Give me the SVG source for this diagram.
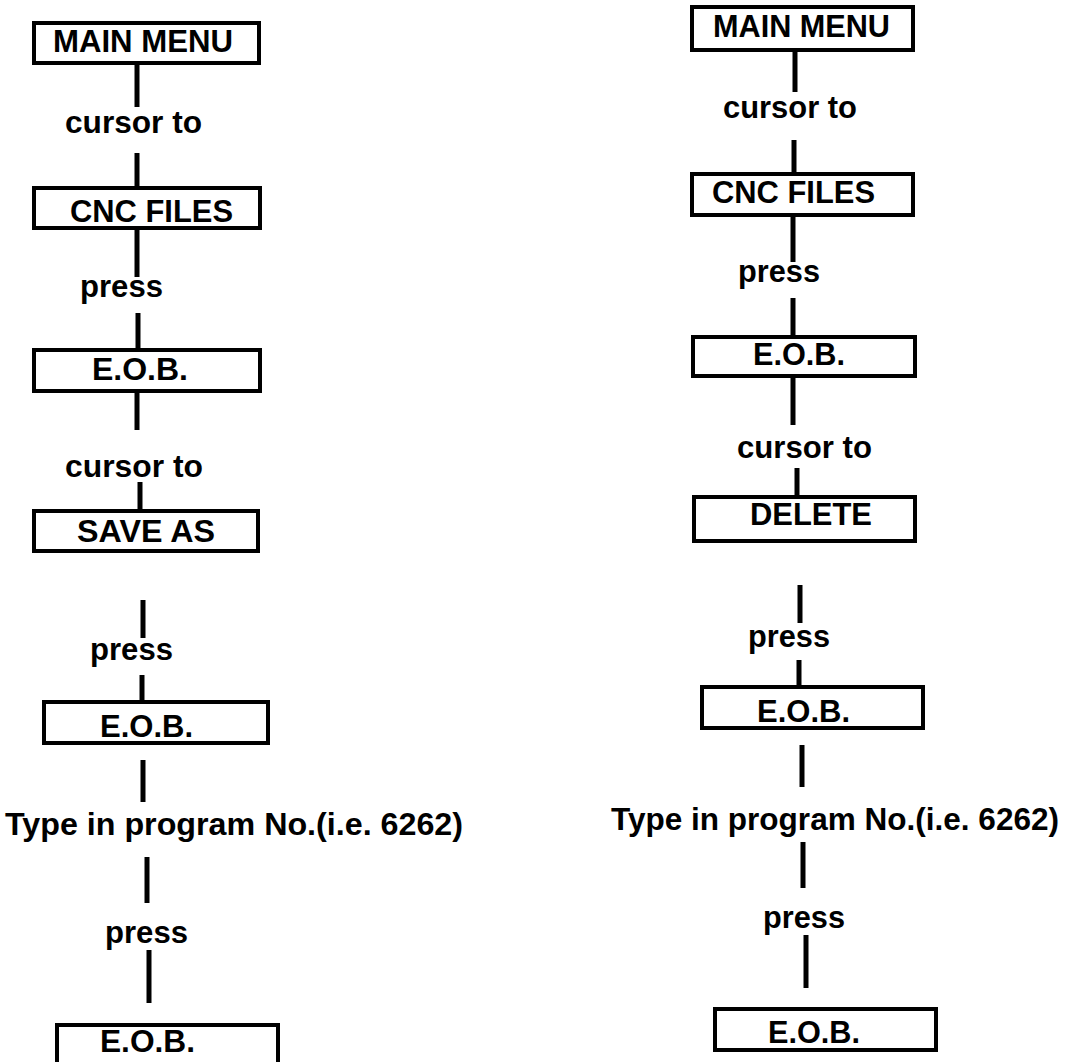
<svg xmlns="http://www.w3.org/2000/svg" width="1070" height="1062" viewBox="0 0 1070 1062">
<style>
.box{fill:#fff;stroke:#000;stroke-width:4}
.bt{font-family:"Liberation Sans",Arial,sans-serif;font-weight:bold;font-size:31px;fill:#000}
.lb{font-family:"Liberation Sans",Arial,sans-serif;font-weight:bold;font-size:32px;fill:#000}
.lt{font-family:"Liberation Sans",Arial,sans-serif;font-weight:bold;font-size:32px;fill:#000}
.ln{stroke:#000;stroke-width:5;fill:none}
</style>
<rect width="1070" height="1062" fill="#fff"/>
<g id="connectors">
<line class="ln" x1="137" y1="65" x2="137" y2="107"/>
<line class="ln" x1="137" y1="153" x2="137" y2="186"/>
<line class="ln" x1="137" y1="230" x2="137" y2="277"/>
<line class="ln" x1="138" y1="313" x2="138" y2="348"/>
<line class="ln" x1="137" y1="393" x2="137" y2="430"/>
<line class="ln" x1="140" y1="482" x2="140" y2="510"/>
<line class="ln" x1="143" y1="600" x2="143" y2="638"/>
<line class="ln" x1="142" y1="675" x2="142" y2="700"/>
<line class="ln" x1="143" y1="760" x2="143" y2="802"/>
<line class="ln" x1="147" y1="857" x2="147" y2="903"/>
<line class="ln" x1="149" y1="950" x2="149" y2="1003"/>
<line class="ln" x1="795" y1="52" x2="795" y2="92"/>
<line class="ln" x1="794" y1="140" x2="794" y2="172"/>
<line class="ln" x1="793" y1="217" x2="793" y2="262"/>
<line class="ln" x1="793" y1="298" x2="793" y2="335"/>
<line class="ln" x1="793" y1="378" x2="793" y2="425"/>
<line class="ln" x1="797" y1="468" x2="797" y2="495"/>
<line class="ln" x1="800" y1="585" x2="800" y2="623"/>
<line class="ln" x1="799" y1="660" x2="799" y2="685"/>
<line class="ln" x1="802" y1="745" x2="802" y2="787"/>
<line class="ln" x1="803" y1="842" x2="803" y2="888"/>
<line class="ln" x1="806" y1="935" x2="806" y2="988"/>
</g>
<g id="labels">
<text class="lb" x="65" y="133" textLength="137" lengthAdjust="spacingAndGlyphs">cursor to</text>
<text class="lb" x="80" y="297" textLength="83" lengthAdjust="spacingAndGlyphs">press</text>
<text class="lb" x="65" y="477" textLength="138" lengthAdjust="spacingAndGlyphs">cursor to</text>
<text class="lb" x="90" y="660" textLength="83" lengthAdjust="spacingAndGlyphs">press</text>
<text class="lt" x="5" y="835" textLength="458" lengthAdjust="spacingAndGlyphs">Type in program No.(i.e. 6262)</text>
<text class="lb" x="105" y="943" textLength="83" lengthAdjust="spacingAndGlyphs">press</text>
<text class="lb" x="723" y="118" textLength="134" lengthAdjust="spacingAndGlyphs">cursor to</text>
<text class="lb" x="738" y="282" textLength="82" lengthAdjust="spacingAndGlyphs">press</text>
<text class="lb" x="737" y="458" textLength="135" lengthAdjust="spacingAndGlyphs">cursor to</text>
<text class="lb" x="748" y="647" textLength="82" lengthAdjust="spacingAndGlyphs">press</text>
<text class="lt" x="611" y="830" textLength="448" lengthAdjust="spacingAndGlyphs">Type in program No.(i.e. 6262)</text>
<text class="lb" x="763" y="928" textLength="82" lengthAdjust="spacingAndGlyphs">press</text>
</g>
<g id="L1"><rect class="box" x="34" y="23" width="225" height="40"/><text class="bt" x="53" y="52" textLength="180" lengthAdjust="spacingAndGlyphs">MAIN MENU</text></g>
<g id="L2"><rect class="box" x="34" y="188" width="226" height="40"/><text class="bt" x="70" y="222" textLength="163" lengthAdjust="spacingAndGlyphs">CNC FILES</text></g>
<g id="L3"><rect class="box" x="34" y="350" width="226" height="41"/><text class="bt" x="92" y="380" textLength="96" lengthAdjust="spacingAndGlyphs">E.O.B.</text></g>
<g id="L4"><rect class="box" x="34" y="511" width="224" height="40"/><text class="bt" x="77" y="542" textLength="138" lengthAdjust="spacingAndGlyphs">SAVE AS</text></g>
<g id="L5"><rect class="box" x="44" y="702" width="224" height="41"/><text class="bt" x="100" y="737" textLength="93" lengthAdjust="spacingAndGlyphs">E.O.B.</text></g>
<g id="L6"><rect class="box" x="57" y="1025" width="221" height="60"/><text class="bt" x="100" y="1052" textLength="95" lengthAdjust="spacingAndGlyphs">E.O.B.</text></g>
<g id="R1"><rect class="box" x="692" y="7" width="221" height="43"/><text class="bt" x="713" y="37" textLength="177" lengthAdjust="spacingAndGlyphs">MAIN MENU</text></g>
<g id="R2"><rect class="box" x="692" y="174" width="221" height="41"/><text class="bt" x="712" y="203" textLength="163" lengthAdjust="spacingAndGlyphs">CNC FILES</text></g>
<g id="R3"><rect class="box" x="693" y="337" width="222" height="39"/><text class="bt" x="753" y="365" textLength="92" lengthAdjust="spacingAndGlyphs">E.O.B.</text></g>
<g id="R4"><rect class="box" x="694" y="497" width="221" height="44"/><text class="bt" x="750" y="525" textLength="122" lengthAdjust="spacingAndGlyphs">DELETE</text></g>
<g id="R5"><rect class="box" x="702" y="687" width="221" height="41"/><text class="bt" x="757" y="722" textLength="93" lengthAdjust="spacingAndGlyphs">E.O.B.</text></g>
<g id="R6"><rect class="box" x="715" y="1009" width="221" height="41"/><text class="bt" x="768" y="1043" textLength="92" lengthAdjust="spacingAndGlyphs">E.O.B.</text></g>
</svg>
